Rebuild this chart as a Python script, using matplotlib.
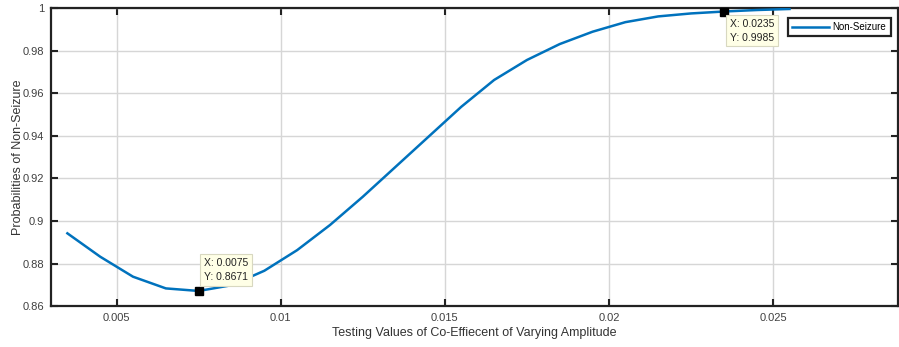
import numpy as np
import matplotlib.pyplot as plt

plt.rcParams['font.family'] = ['Liberation Sans', 'DejaVu Sans']

# co-efficient values and probabilities
coeff = [0.0035, 0.0045, 0.0055, 0.0065, 0.0075, 0.0085, 0.0095, 0.0105, 0.0115,
         0.0125, 0.0135, 0.0145, 0.0155, 0.0165, 0.0175, 0.0185, 0.0195, 0.0205,
         0.0215, 0.0225, 0.0235, 0.0245, 0.0255]
prob = [0.8942, 0.8832, 0.8738, 0.8683, 0.8671, 0.8698, 0.8766, 0.8863, 0.8981,
        0.9114, 0.9255, 0.9396, 0.9537, 0.9663, 0.9757, 0.9832, 0.9890, 0.9935,
        0.9962, 0.9976, 0.9985, 0.9992, 0.9997]
tips = [(0.0075, 0.8671), (0.0235, 0.9985)]
xticks = [0.005, 0.01, 0.015, 0.02, 0.025]
yticks = [0.86, 0.88, 0.9, 0.92, 0.94, 0.96, 0.98, 1]

fig = plt.figure(figsize=(8.99, 3.47), dpi=100)
ax = fig.add_axes([0.0567, 0.118, 0.942, 0.858])

ax.plot(coeff, prob, color='#0072BD', lw=1.8, label='Non-Seizure', zorder=3)

ax.set_xlim(0.003, 0.0288)
ax.set_ylim(0.86, 1)
ax.set_xticks(xticks)
ax.set_xticklabels(['0.005', '0.01', '0.015', '0.02', '0.025'])
ax.set_yticks(yticks)
ax.set_yticklabels(['0.86', '0.88', '0.9', '0.92', '0.94', '0.96', '0.98', '1'])
ax.grid(True, color='#d6d6d6', lw=1)
ax.set_axisbelow(True)
ax.tick_params(direction='in', length=5, width=1.5, top=True, right=True,
               labelsize=8, labelcolor='#404040', color='#222222', pad=5)
for s in ax.spines.values():
    s.set_linewidth(1.6)
    s.set_color('#222222')

ax.set_xlabel('Testing Values of Co-Effiecent of Varying Amplitude', fontsize=9,
              color='#333333', labelpad=3)
ax.set_ylabel('Probabilities of Non-Seizure', fontsize=9, color='#333333', labelpad=-1)

# data tips
offsets = [(5, 9, 'left', 'bottom'), (6, -7, 'left', 'top')]
for (tx, ty), (dx, dy, ha, va) in zip(tips, offsets):
    ax.plot(tx, ty, 's', color='black', ms=6, zorder=5, clip_on=False)
    ax.annotate('X: %.4f\nY: %.4f' % (tx, ty), (tx, ty), xytext=(dx, dy),
                textcoords='offset pixels', ha=ha, va=va, fontsize=7.5,
                linespacing=1.5, color='#222222', zorder=6,
                bbox=dict(boxstyle='square,pad=0.35', fc='#ffffe6', ec='#d8d8c0', lw=0.8))

leg = ax.legend(loc='upper right', fontsize=7, frameon=True, fancybox=False,
                borderpad=0.45, handlelength=3.8, handletextpad=0.4,
                bbox_to_anchor=(0.9975, 0.985))
leg.get_frame().set_edgecolor('#222222')
leg.get_frame().set_linewidth(1.6)
leg.get_frame().set_alpha(1)

fig.savefig('out.png', dpi=100)
